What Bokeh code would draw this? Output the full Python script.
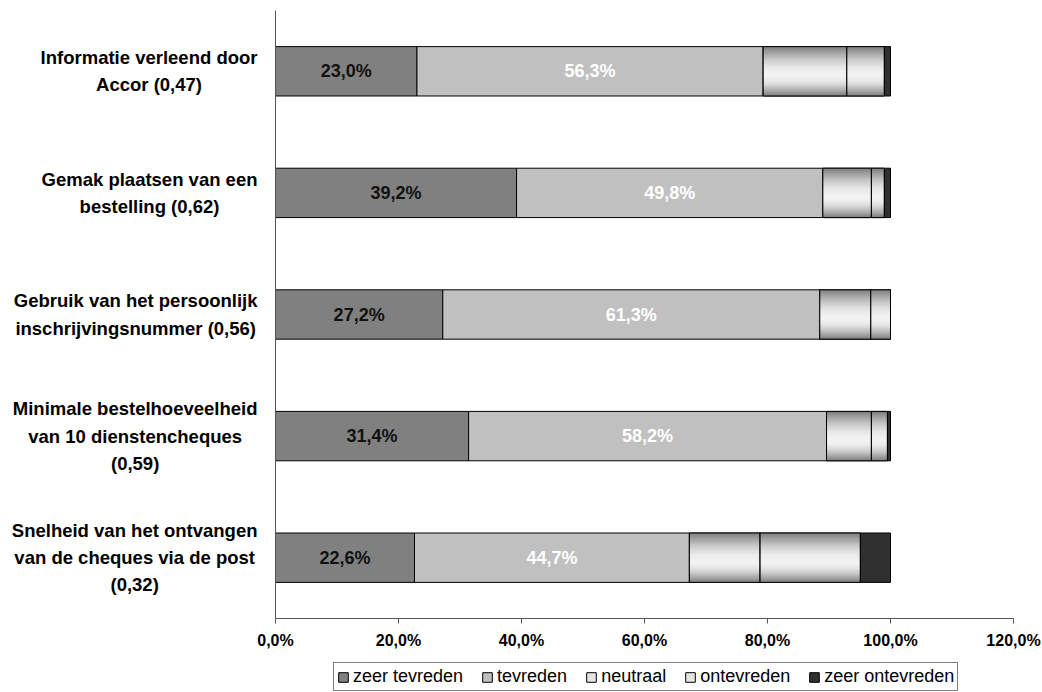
import math

from bokeh.core.properties import value
from bokeh.embed import file_html
from bokeh.models import ColumnDataSource, FixedTicker, Legend, LegendItem, Range1d
from bokeh.plotting import figure
from bokeh.resources import INLINE

# Survey items (top to bottom) with their mean score
categories = [
    "Informatie verleend door\nAccor (0,47)",
    "Gemak plaatsen van een\nbestelling (0,62)",
    "Gebruik van het persoonlijk\ninschrijvingsnummer (0,56)",
    "Minimale bestelhoeveelheid\nvan 10 dienstencheques\n(0,59)",
    "Snelheid van het ontvangen\nvan de cheques via de post\n(0,32)",
]
series_names = ["zeer tevreden", "tevreden", "neutraal", "ontevreden", "zeer ontevreden"]

# Share of respondents per answer (%)
zeer_tevreden = [23.0, 39.2, 27.2, 31.4, 22.6]
tevreden = [56.3, 49.8, 61.3, 58.2, 44.7]
neutraal = [13.6, 7.9, 8.3, 7.3, 11.5]
ontevreden = [6.1, 2.1, 3.2, 2.6, 16.3]
zeer_ontevreden = [1.0, 1.0, 0.0, 0.5, 4.9]

x_ticks = [0, 20, 40, 60, 80, 100, 120]
x_tick_labels = ["0,0%", "20,0%", "40,0%", "60,0%", "80,0%", "100,0%", "120,0%"]

FONT = "Liberation Sans"
BAR_H = 0.406
N_STRIPS = 40

# page geometry (px): the plot frame fills the whole canvas, the bar area
# sits inside it and the axes are pinned to its edges
W, H = 1042, 692
AREA_L, AREA_R, AREA_T, AREA_B = 275, 1013, 10, 618
X_MAX = 120
LABEL_GAP = 18        # gap between category labels and the vertical axis

series = [zeer_tevreden, tevreden, neutraal, ontevreden, zeer_ontevreden]
# solid fill per series; None marks the metallic gradient fill
solid_fill = ["#808080", "#c0c0c0", None, None, "#303030"]

n = len(categories)
ypos = [n - 1 - i for i in range(n)]  # first item on top

px_x = (AREA_R - AREA_L) / X_MAX
px_y = (AREA_B - AREA_T) / n
x_range = Range1d(-AREA_L / px_x, X_MAX + (W - AREA_R) / px_x)
y_range = Range1d(-0.5 - (H - AREA_B) / px_y, n - 0.5 + AREA_T / px_y)

p = figure(
    width=W, height=H, x_range=x_range, y_range=y_range,
    output_backend="svg", toolbar_location=None,
    min_border=0, min_border_left=0, min_border_right=0,
    min_border_top=0, min_border_bottom=0,
)
p.outline_line_color = None
p.xgrid.visible = False
p.ygrid.visible = False


def shade(t):
    """Grey level of the metallic fill at relative depth t (0 = top, 1 = bottom)."""
    dark, light = 0x7c, 0xf2
    if t < 0.58:
        f = math.sin(0.5 * math.pi * t / 0.58)
    else:
        f = math.sin(0.5 * math.pi * (1 - t) / 0.42)
    g = int(round(dark + (light - dark) * f))
    return "#%02x%02x%02x" % (g, g, g)


lefts = [0.0] * n
legend_items = []
for s_idx, (name, vals) in enumerate(zip(series_names, series)):
    left = list(lefts)
    right = [l + v for l, v in zip(left, vals)]
    seg = ColumnDataSource(dict(y=ypos, left=left, right=right))
    if solid_fill[s_idx] is not None:
        r = p.hbar(y="y", left="left", right="right", height=BAR_H, source=seg,
                   fill_color=solid_fill[s_idx], line_color="#000000", line_width=1)
        legend_items.append(LegendItem(label=name, renderers=[r]))
    else:
        base = p.hbar(y="y", left="left", right="right", height=BAR_H, source=seg,
                      fill_color="#e4e4e4", line_color="#000000", line_width=1)
        # thin strips drawn top to bottom; each one reaches a little into the
        # next so that no seams show between them
        step = BAR_H / N_STRIPS
        st, sb, sl, sr, sc = [], [], [], [], []
        for b in range(n):
            if vals[b] <= 0:
                continue
            top = ypos[b] + BAR_H / 2
            for k in range(N_STRIPS):
                st.append(top - k * step)
                sb.append(top - (k + 1) * step - (0.6 * step if k < N_STRIPS - 1 else 0))
                sl.append(left[b])
                sr.append(right[b])
                sc.append(shade((k + 0.5) / N_STRIPS))
        strips = ColumnDataSource(dict(top=st, bottom=sb, left=sl, right=sr, color=sc))
        p.quad(top="top", bottom="bottom", left="left", right="right", source=strips,
               fill_color="color", line_color=None)
        p.hbar(y="y", left="left", right="right", height=BAR_H, source=seg,
               fill_color=None, line_color="#000000", line_width=1)
        legend_items.append(LegendItem(label=name, renderers=[base]))
    lefts = right

# value labels on the first two segments of every bar
label_colors = ["#111111", "#ffffff"]
lefts = [0.0] * n
for s_idx in range(2):
    vals = series[s_idx]
    mids = [l + v / 2 for l, v in zip(lefts, vals)]
    texts = [("%.1f" % v).replace(".", ",") + "%" for v in vals]
    p.text(x=mids, y=ypos, text=texts, text_align="center", text_baseline="middle",
           text_font=value(FONT), text_font_style="bold", text_font_size="18px",
           text_color=label_colors[s_idx])
    lefts = [l + v for l, v in zip(lefts, vals)]

# category labels: block right-aligned to the axis, lines centred
p.text(x=[-LABEL_GAP / px_x] * n, y=ypos, text=categories, anchor="center_right",
       text_align="center", text_baseline="middle", text_line_height=1.3,
       text_font=value(FONT), text_font_style="bold", text_font_size="18.5px",
       text_color="#000000")

# x axis pinned right under the bars
p.xaxis.fixed_location = -0.5
p.xaxis.bounds = (0, X_MAX)
p.xaxis.ticker = FixedTicker(ticks=x_ticks)
p.xaxis.major_label_overrides = {t: s for t, s in zip(x_ticks, x_tick_labels)}
p.xaxis.minor_tick_line_color = None
p.xaxis.major_tick_in = 0
p.xaxis.major_tick_out = 5
p.xaxis.major_label_standoff = 8
p.xaxis.major_label_text_font = FONT
p.xaxis.major_label_text_font_style = "bold"
p.xaxis.major_label_text_font_size = "16px"
p.xaxis.major_label_text_color = "#000000"
p.xaxis.axis_line_color = "#555555"
p.xaxis.major_tick_line_color = "#555555"

# category axis: plain line along the bar area at 0 %
p.yaxis.fixed_location = 0
p.yaxis.bounds = (-0.5, n - 0.5)
p.yaxis.ticker = FixedTicker(ticks=ypos)
p.yaxis.major_label_overrides = {y: "" for y in ypos}
p.yaxis.major_tick_in = 0
p.yaxis.major_tick_out = 0
p.yaxis.major_tick_line_color = None
p.yaxis.minor_tick_line_color = None
p.yaxis.major_label_standoff = 0
p.yaxis.axis_line_color = "#555555"

legend = Legend(
    items=legend_items, orientation="horizontal", location=(333, 1),
    label_text_font=FONT, label_text_font_size="18px", label_text_color="#000000",
    glyph_width=12, glyph_height=12, label_standoff=4, spacing=18, padding=3,
    label_height=18, margin=0,
    border_line_color="#000000", border_line_width=1, background_fill_alpha=1,
)
p.add_layout(legend, "center")

open("out.html", "w").write(file_html(p, INLINE))
